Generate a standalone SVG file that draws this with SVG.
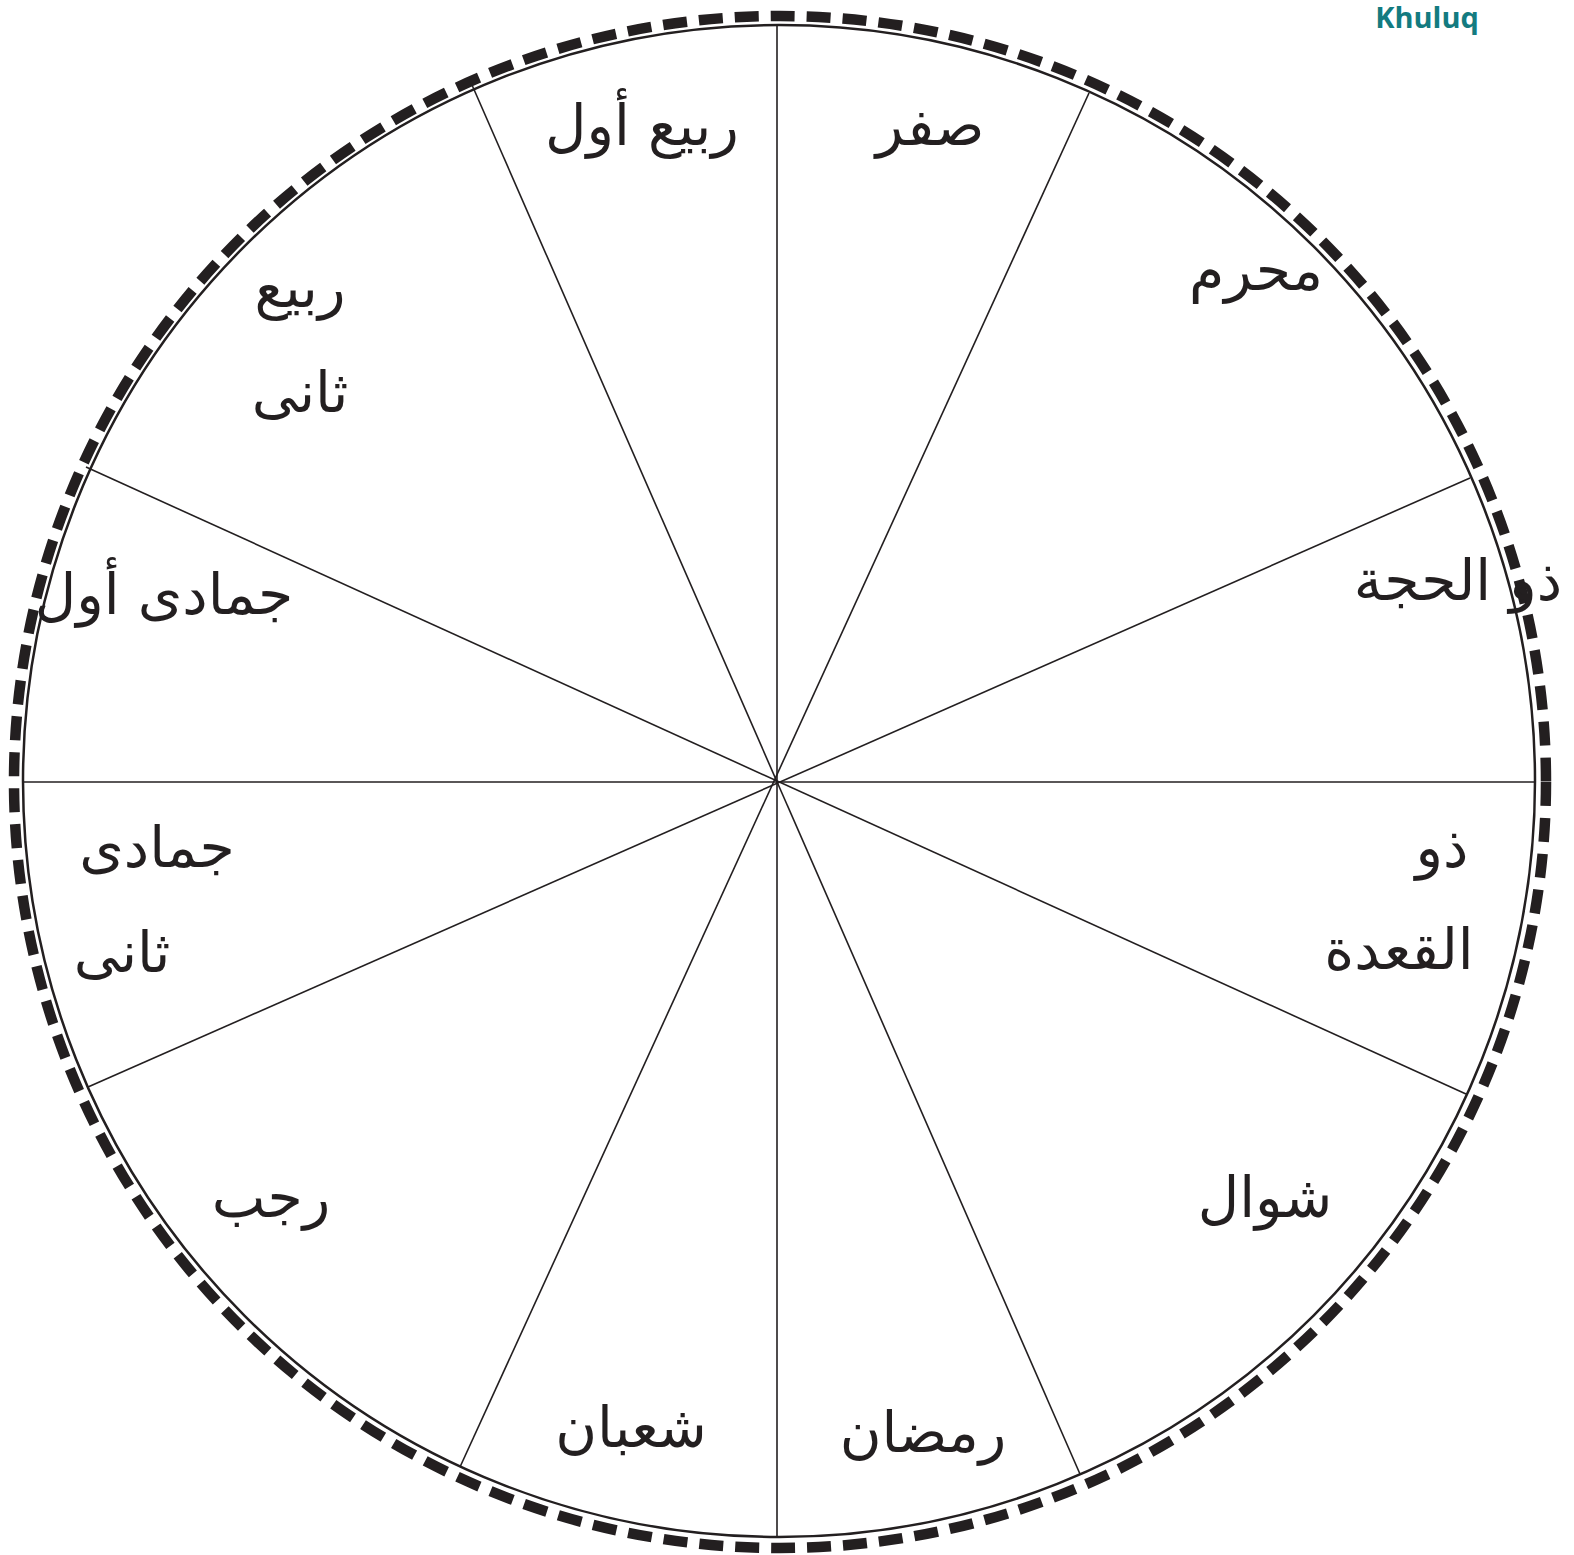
<svg xmlns="http://www.w3.org/2000/svg" width="1574" height="1555" viewBox="0 0 1574 1555">
<style>
.ring{fill:none;stroke:#231f20;stroke-width:10.5;stroke-dasharray:24 12}
.circ{fill:none;stroke:#231f20;stroke-width:2.5}
.spoke{stroke:#231f20;stroke-width:1.6}
.lbl{font-family:"DejaVu Sans",sans-serif;font-size:57px;fill:#231f20;text-anchor:middle}
.brand{font-family:"Open Sans","Noto Sans",sans-serif;font-weight:bold;font-size:29px;fill:#137b80;text-anchor:middle}
</style>
<rect width="1574" height="1555" fill="#ffffff"/>
<text class="brand" x="1427" y="28">Khuluq</text>
<g id="wheel">
<circle class="ring" cx="780" cy="782" r="766"/>
<circle class="circ" cx="779" cy="781" r="756"/>
</g>
<g id="connectors">
<line class="spoke" x1="777" y1="25" x2="777" y2="1537"/>
<line class="spoke" x1="23" y1="782" x2="1535" y2="782"/>
<line class="spoke" x1="1089" y1="93" x2="460" y2="1467"/>
<line class="spoke" x1="472" y1="85" x2="1080" y2="1474"/>
<line class="spoke" x1="1470" y1="478" x2="88" y2="1087"/>
<line class="spoke" x1="86" y1="467" x2="1466" y2="1094"/>
</g>
<g id="n-safar"><text class="lbl" x="930" y="145">صفر</text></g>
<g id="n-rabi1"><text class="lbl" x="642" y="145">ربيع أول</text></g>
<g id="n-muharram"><text class="lbl" x="1256" y="290">محرم</text></g>
<g id="n-rabi2"><text class="lbl" x="300" y="307">ربيع</text><text class="lbl" x="300" y="412">ثانى</text></g>
<g id="n-jumada1"><text class="lbl" x="164" y="614">جمادى أول</text></g>
<g id="n-dhulhijja"><text class="lbl" x="1458" y="600">ذو الحجة</text></g>
<g id="n-jumada2"><text class="lbl" x="157" y="867">جمادى</text><text class="lbl" x="122" y="972">ثانى</text></g>
<g id="n-dhulqada"><text class="lbl" x="1442" y="867">ذو</text><text class="lbl" x="1399" y="969">القعدة</text></g>
<g id="n-rajab"><text class="lbl" x="271" y="1217">رجب</text></g>
<g id="n-shawwal"><text class="lbl" x="1265" y="1217">شوال</text></g>
<g id="n-shaban"><text class="lbl" x="631" y="1447">شعبان</text></g>
<g id="n-ramadan"><text class="lbl" x="923" y="1452">رمضان</text></g>
</svg>
